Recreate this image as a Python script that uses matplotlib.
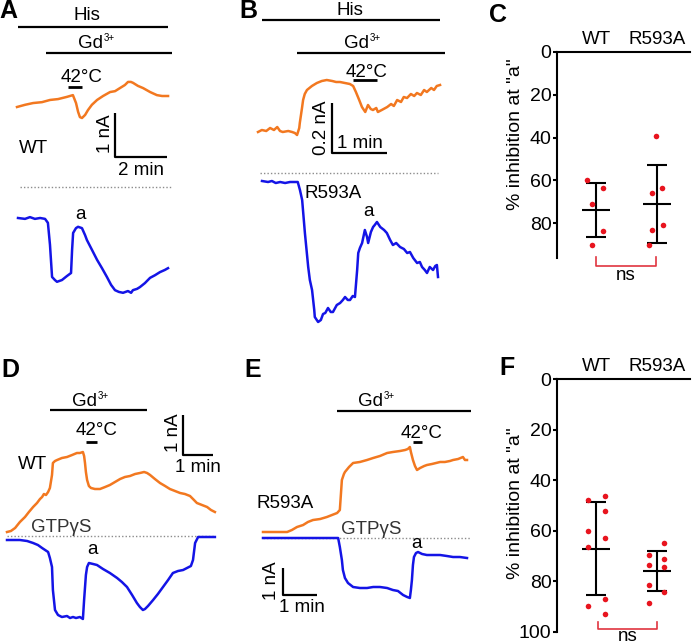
import matplotlib
matplotlib.use("Agg")
import matplotlib.pyplot as plt

plt.rcParams['font.family'] = ['Liberation Sans', 'DejaVu Sans']

ORANGE = '#f27820'
BLUE = '#1414e6'
RED = '#e8141e'
BRACKET = '#e03540'
FS = 13.5

# ---- traces: time (min), current (nA) ----
a_wt_t = [0, 0.31, 0.62, 0.96, 1.27, 1.58, 1.92, 2.15, 2.27, 2.35, 2.42, 2.50, 2.62, 2.73, 2.88,
          3.08, 3.31, 3.58, 3.77, 3.96, 4.15, 4.27, 4.38, 4.46, 4.65, 4.85, 5.12, 5.38, 5.58, 5.81]
a_wt_i = [0, 0.05, 0.09, 0.11, 0.16, 0.18, 0.23, 0.27, 0.09, -0.11, -0.23, -0.25, -0.18, -0.07, 0.05,
          0.16, 0.25, 0.34, 0.36, 0.43, 0.50, 0.57, 0.57, 0.55, 0.48, 0.43, 0.34, 0.27, 0.25, 0.25]

a_gtp_t = [0, 0.27, 0.46, 0.65, 0.85, 1.04, 1.15, 1.23, 1.31, 1.42, 1.50, 1.69, 1.88, 2.04, 2.08,
           2.12, 2.23, 2.31, 2.46, 2.58, 2.65, 2.85, 3.04, 3.23, 3.42, 3.58, 3.73, 3.88, 4.04, 4.23,
           4.35, 4.42, 4.58, 4.69, 4.88, 5.08, 5.27, 5.46, 5.65, 5.77]
a_gtp_i = [0, -0.02, 0.02, -0.02, 0, -0.02, -0.11, -0.61, -1.34, -1.41, -1.45, -1.41, -1.32, -1.25, -0.73,
           -0.34, -0.23, -0.20, -0.23, -0.39, -0.50, -0.73, -0.95, -1.14, -1.34, -1.52, -1.64, -1.68, -1.70, -1.66,
           -1.70, -1.64, -1.61, -1.57, -1.48, -1.36, -1.30, -1.23, -1.18, -1.14]

b_wt_t = [0, 0.07, 0.15, 0.22, 0.29, 0.35, 0.40, 0.45, 0.55, 0.62, 0.67, 0.71, 0.75, 0.76, 0.80,
          0.82, 0.85, 0.89, 0.98, 1.07, 1.16, 1.25, 1.35, 1.42, 1.49, 1.58, 1.67, 1.73, 1.78, 1.84,
          1.89, 1.95, 2.00, 2.05, 2.09, 2.15, 2.18, 2.25, 2.35, 2.42, 2.47, 2.53, 2.60, 2.65, 2.71,
          2.78, 2.84, 2.89, 2.96, 3.02, 3.07, 3.15, 3.20, 3.25, 3.31]
b_wt_i = [0, 0.008, 0.004, 0.016, 0.008, 0.020, 0.004, 0, 0.004, 0, -0.004, -0.012, 0.016, 0.036, 0.096,
          0.128, 0.152, 0.168, 0.184, 0.196, 0.204, 0.208, 0.204, 0.200, 0.200, 0.196, 0.192, 0.184, 0.160, 0.128,
          0.100, 0.080, 0.108, 0.092, 0.088, 0.096, 0.080, 0.088, 0.100, 0.112, 0.104, 0.128, 0.120, 0.140, 0.136,
          0.152, 0.144, 0.156, 0.148, 0.168, 0.160, 0.176, 0.168, 0.184, 0.188]

b_mut_t = [0, 0.11, 0.18, 0.25, 0.33, 0.42, 0.51, 0.65, 0.69, 0.73, 0.78, 0.84, 0.87, 0.91, 0.95,
           0.96, 1.02, 1.07, 1.11, 1.15, 1.20, 1.25, 1.29, 1.36, 1.42, 1.47, 1.51, 1.56, 1.60, 1.65,
           1.69, 1.73, 1.75, 1.78, 1.82, 1.87, 1.91, 1.93, 1.98, 2.02, 2.05, 2.09, 2.15, 2.22, 2.27,
           2.33, 2.38, 2.44, 2.51, 2.58, 2.64, 2.69, 2.75, 2.82, 2.87, 2.91, 2.96, 3.00, 3.05, 3.11,
           3.15, 3.18, 3.20]
b_mut_i = [0, -0.004, 0, -0.008, -0.004, -0.008, -0.004, -0.004, -0.036, -0.076, -0.208, -0.344, -0.396, -0.436, -0.516,
           -0.544, -0.564, -0.556, -0.532, -0.528, -0.508, -0.524, -0.524, -0.496, -0.488, -0.476, -0.464, -0.476, -0.476, -0.460,
           -0.464, -0.356, -0.288, -0.268, -0.248, -0.196, -0.224, -0.248, -0.204, -0.184, -0.176, -0.164, -0.184, -0.196, -0.208,
           -0.236, -0.256, -0.248, -0.264, -0.272, -0.288, -0.284, -0.308, -0.328, -0.324, -0.344, -0.356, -0.368, -0.344, -0.356,
           -0.340, -0.336, -0.384]

d_wt_t = [0, 0.13, 0.27, 0.43, 0.60, 0.73, 0.87, 1.00, 1.10, 1.17, 1.23, 1.30, 1.37, 1.43, 1.50,
          1.53, 1.60, 1.67, 1.83, 2.00, 2.17, 2.33, 2.43, 2.53, 2.57, 2.60, 2.63, 2.67, 2.73, 2.80,
          2.93, 3.10, 3.27, 3.43, 3.60, 3.77, 3.93, 4.10, 4.27, 4.43, 4.57, 4.67, 4.77, 4.93, 5.10,
          5.27, 5.43, 5.60, 5.77, 5.93, 6.10, 6.20, 6.33, 6.50, 6.67, 6.80, 6.93]
d_wt_i = [0, 0.025, 0.10, 0.25, 0.375, 0.50, 0.625, 0.725, 0.825, 0.875, 0.95, 0.925, 1.00, 1.10, 1.425,
          1.725, 1.775, 1.80, 1.85, 1.875, 1.925, 1.975, 1.975, 2.00, 1.90, 1.725, 1.50, 1.30, 1.15, 1.10,
          1.075, 1.075, 1.125, 1.175, 1.25, 1.325, 1.375, 1.40, 1.45, 1.475, 1.50, 1.475, 1.425, 1.325, 1.225,
          1.15, 1.075, 1.025, 0.975, 0.95, 0.90, 0.825, 0.725, 0.675, 0.625, 0.55, 0.50]

d_gtp_t = [0, 0.27, 0.43, 0.67, 0.87, 1.03, 1.17, 1.27, 1.37, 1.43, 1.50, 1.53, 1.60, 1.70, 1.83,
           2.00, 2.10, 2.20, 2.30, 2.43, 2.53, 2.57, 2.63, 2.67, 2.73, 2.87, 3.00, 3.20, 3.43, 3.67,
           3.83, 4.00, 4.17, 4.33, 4.43, 4.53, 4.60, 4.70, 4.87, 5.03, 5.20, 5.37, 5.53, 5.70, 5.87,
           6.00, 6.13, 6.20, 6.27, 6.37, 6.60, 6.93]
d_gtp_i = [0, 0, 0, -0.025, -0.075, -0.125, -0.20, -0.25, -0.30, -0.45, -0.675, -1.25, -1.75, -1.875, -1.925,
           -1.90, -1.95, -1.925, -1.95, -1.925, -1.975, -1.50, -0.875, -0.675, -0.575, -0.60, -0.625, -0.725, -0.825, -0.95,
           -1.05, -1.175, -1.375, -1.575, -1.675, -1.75, -1.725, -1.65, -1.50, -1.35, -1.175, -1.00, -0.825, -0.775, -0.75,
           -0.70, -0.65, -0.50, -0.075, 0.075, 0.075, 0.075]

e_wt_t = [0, 0.21, 0.50, 0.71, 0.85, 1.00, 1.18, 1.32, 1.47, 1.68, 1.88, 2.03, 2.18, 2.26, 2.29,
          2.32, 2.38, 2.41, 2.53, 2.65, 2.85, 3.06, 3.24, 3.44, 3.65, 3.82, 4.03, 4.18, 4.26, 4.32,
          4.35, 4.41, 4.47, 4.53, 4.62, 4.74, 4.82, 4.97, 5.09, 5.21, 5.35, 5.50, 5.59, 5.74, 5.88,
          5.94, 6.00]
e_wt_i = [0, 0, 0, 0, 0.074, 0.185, 0.259, 0.370, 0.444, 0.481, 0.556, 0.630, 0.704, 0.815, 1.370,
          1.926, 2.148, 2.222, 2.407, 2.556, 2.593, 2.667, 2.741, 2.815, 2.926, 2.963, 3.000, 3.037, 3.074, 3.148,
          2.963, 2.667, 2.444, 2.296, 2.370, 2.444, 2.481, 2.519, 2.556, 2.593, 2.593, 2.630, 2.667, 2.704, 2.778,
          2.667, 2.667]

e_gtp_t = [0, 0.50, 1.09, 2.21, 2.26, 2.32, 2.35, 2.41, 2.50, 2.65, 2.85, 3.06, 3.24, 3.44, 3.65,
           3.82, 3.97, 4.12, 4.24, 4.32, 4.35, 4.38, 4.41, 4.44, 4.50, 4.56, 4.68, 4.82, 5.00, 5.21,
           5.41, 5.59, 5.79, 6.00]
e_gtp_i = [0, 0, 0, 0, -0.333, -0.815, -1.185, -1.481, -1.667, -1.815, -1.852, -1.852, -1.815, -1.815, -1.852,
           -1.926, -1.963, -2.111, -2.185, -2.222, -1.926, -1.556, -1.000, -0.704, -0.556, -0.519, -0.593, -0.630, -0.630, -0.630,
           -0.667, -0.704, -0.704, -0.741]

# ---- summary: % inhibition at "a" ----
groups = ['WT', 'R593A']
c_wt = [60, 63.5, 71, 83.5, 90]
c_wt_jit = [-0.15, 0.12, -0.07, 0.11, -0.07]
c_mut = [39.5, 63.5, 66, 81, 83, 90]
c_mut_jit = [-0.02, 0.08, -0.09, 0.10, -0.09, -0.14]
c_mean = [74, 71]
c_sd = [12.7, 18.2]

f_wt = [47.8, 46.4, 52, 60, 63, 66.6, 86.8, 89.7, 93]
f_wt_jit = [-0.13, 0.14, 0.14, -0.13, 0.14, -0.13, 0.14, -0.13, 0.14]
f_mut = [65, 69.5, 71, 73.5, 74.4, 81.4, 84, 88.4]
f_mut_jit = [0.12, -0.13, 0.12, -0.13, 0.12, -0.13, 0.12, -0.13]
f_mean = [67, 75.7]
f_sd = [18.5, 7.9]

W, H = 693, 644
fig = plt.figure(figsize=(W / 100, H / 100), dpi=100)

ann = fig.add_axes([0, 0, 1, 1])
ann.set_xlim(0, W)
ann.set_ylim(H, 0)
ann.axis('off')


def trace_axes(x0, y0, ppm, ppn):
    # transparent full-figure axes: 1 min = ppm px, 1 nA = ppn px
    ax = fig.add_axes([0, 0, 1, 1])
    ax.patch.set_alpha(0)
    ax.axis('off')
    ax.set_xlim(-x0 / ppm, (W - x0) / ppm)
    ax.set_ylim((y0 - H) / ppn, y0 / ppn)
    return ax


def scale_bar(ax, x0, y0, ppm, ppn, cx, cy, dt, di):
    t = (cx - x0) / ppm
    i = (y0 - cy) / ppn
    ax.plot([t, t, t + dt], [i + di, i, i], color='k', lw=1.6, solid_capstyle='butt')


def txt(x, y, s, **kw):
    kw.setdefault('ha', 'center')
    kw.setdefault('va', 'center')
    kw.setdefault('fontsize', FS)
    ann.text(x, y, s, **kw)


def gd(xr, y):
    # "Gd" with small superscript "3+", xr = right edge of "Gd"
    ann.text(xr, y, 'Gd', ha='right', va='center', fontsize=FS)
    ann.text(xr + 0.5, y - 5, '3+', ha='left', va='center', fontsize=7)


def bar(x1, x2, y, lw=1.6):
    ann.plot([x1, x2], [y, y], color='k', lw=lw, solid_capstyle='butt')


def dots(x1, x2, y):
    ann.plot([x1, x2], [y, y], color='#8c8c8c', lw=1.0, ls=(0, (1, 1.5)))


def letter(x, y, s):
    ann.text(x, y, s, fontsize=18, fontweight='bold', ha='left', va='center')


# ---- A ----
letter(-1, 11, 'A')
txt(87, 15, 'His'); bar(18, 168, 27)
gd(103, 43); bar(46, 172, 53)
txt(82, 77, '42°C'); bar(68, 82, 87, lw=2)
txt(19, 148, 'WT', ha='left')
txt(105, 134, '1 nA', rotation=90)
txt(141, 170, '2 min')
dots(20, 172, 187)
txt(80, 214, 'a')
ax = trace_axes(17, 107, 26, 44)
ax.plot(a_wt_t, a_wt_i, color=ORANGE, lw=1.8)
scale_bar(ax, 17, 107, 26, 44, 115, 157, 2, 1)
ax = trace_axes(18, 218, 26, 44)
ax.plot(a_gtp_t, a_gtp_i, color=BLUE, lw=1.8)

# ---- B ----
letter(239, 11, 'B')
txt(350, 10, 'His'); bar(262, 440, 20)
gd(369, 43); bar(297, 445, 53)
txt(367, 72, '42°C'); bar(353, 377, 80, lw=2)
txt(322, 128, '0.2 nA', rotation=90)
txt(360, 143, '1 min')
dots(260, 438, 173)
txt(304, 193, 'R593A', ha='left')
txt(368, 211, 'a')
ax = trace_axes(258, 132, 55, 250)
ax.plot(b_wt_t, b_wt_i, color=ORANGE, lw=1.8)
scale_bar(ax, 258, 132, 55, 250, 332, 153, 1, 0.2)
ax = trace_axes(262, 181, 55, 250)
ax.plot(b_mut_t, b_mut_i, color=BLUE, lw=1.8)

# ---- D ----
letter(1, 370, 'D')
gd(97, 401); bar(50, 147, 410)
txt(97, 430, '42°C'); bar(86, 97, 442, lw=2)
txt(173, 433, '1 nA', rotation=90)
txt(198, 467, '1 min')
txt(18, 464, 'WT', ha='left')
txt(31, 527, 'GTPγS', ha='left', color='#333333')
dots(7, 215, 536)
txt(93, 550, 'a')
ax = trace_axes(7, 532, 30, 40)
ax.plot(d_wt_t, d_wt_i, color=ORANGE, lw=1.8)
scale_bar(ax, 7, 532, 30, 40, 183, 455, 1, 1)
ax = trace_axes(7, 540, 30, 40)
ax.plot(d_gtp_t, d_gtp_i, color=BLUE, lw=1.8)

# ---- E ----
letter(244, 370, 'E')
gd(383, 401); bar(337, 471, 411)
txt(422, 433, '42°C'); bar(413, 422, 442, lw=2)
txt(256, 503, 'R593A', ha='left')
txt(341, 530, 'GTPγS', ha='left', color='#333333')
dots(263, 471, 538)
txt(417, 544, 'a')
txt(272, 581, '1 nA', rotation=90)
txt(302, 607, '1 min')
ax = trace_axes(263, 532, 34, 27)
ax.plot(e_wt_t, e_wt_i, color=ORANGE, lw=1.8)
scale_bar(ax, 263, 532, 34, 27, 283, 595, 1, 1)
ax = trace_axes(263, 538, 34, 27)
ax.plot(e_gtp_t, e_gtp_i, color=BLUE, lw=1.8)


# ---- C / F ----
def summary(rect, ylim, ticks, wt, wt_jit, mut, mut_jit, mean, sd, br, ns_y, lab_y):
    ax = fig.add_axes(rect)
    ax.set_ylim(ylim, 0)
    ax.set_xlim(-0.64, 1.54)
    for s in ['right', 'bottom']:
        ax.spines[s].set_visible(False)
    for s in ['left', 'top']:
        ax.spines[s].set_linewidth(1.5)
    ax.set_yticks(ticks)
    ax.tick_params(axis='y', length=3, width=1.5, labelsize=14, pad=1)
    ax.xaxis.tick_top()
    ax.set_xticks([0, 1])
    ax.set_xticklabels(groups)
    ax.tick_params(axis='x', length=0, labelsize=FS, pad=3)
    ax.set_ylabel('% inhibition at "a"', fontsize=14)
    ax.yaxis.set_label_coords(-0.25, lab_y)
    ax.scatter(list(wt_jit), wt, s=16, color=RED, zorder=3, clip_on=False, linewidths=0)
    ax.scatter([1 + j for j in mut_jit], mut, s=16, color=RED, zorder=3, clip_on=False, linewidths=0)
    ax.errorbar([0, 1], mean, yerr=sd, fmt='none', ecolor='k', elinewidth=1.5,
                capsize=7, capthick=1.5, clip_on=False)
    ax.hlines(mean, [-0.23, 0.77], [0.23, 1.23], color='k', lw=1.5)
    ax.plot([br[0], br[0], br[1], br[1]], [br[2], br[3], br[3], br[2]], color=BRACKET, lw=1.2,
            clip_on=False)
    ax.text((br[0] + br[1]) / 2, ns_y, 'ns', ha='center', va='center', fontsize=FS)
    return ax


letter(489, 15, 'C')
summary([557 / W, 1 - 258 / H, 133 / W, 206 / H], 96.3, [0, 20, 40, 60, 80],
        c_wt, c_wt_jit, c_mut, c_mut_jit, c_mean, c_sd, (0.0, 0.98, 95.8, 100), 104.3, 0.60)

letter(499, 368, 'F')
summary([557 / W, 1 - 632 / H, 133 / W, 253 / H], 100, [0, 20, 40, 60, 80, 100],
        f_wt, f_wt_jit, f_mut, f_mut_jit, f_mean, f_sd, (0.03, 1.0, 95.9, 99), 101.6, 0.51)

fig.savefig('out.png', dpi=100)
